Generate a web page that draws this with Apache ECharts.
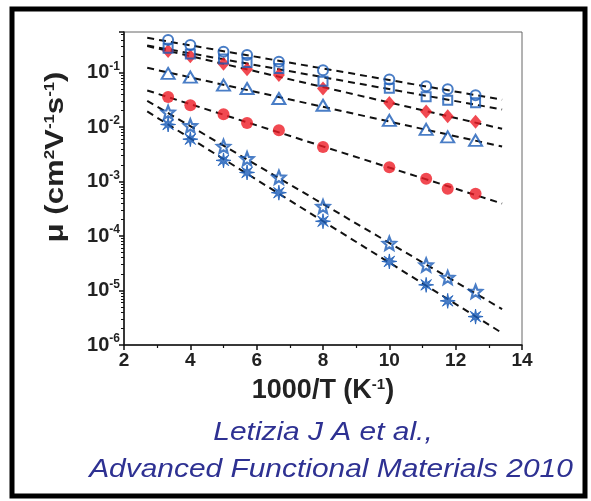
<!DOCTYPE html>
<html><head><meta charset="utf-8">
<script src="https://cdn.jsdelivr.net/npm/echarts@6/dist/echarts.min.js"></script>
<style>html,body{margin:0;padding:0;background:#fff}#c{width:591px;height:501px}</style>
</head><body><div id="c"></div>
<script>
// 1000/T (K^-1)
const xT = [3.33, 4, 5, 5.71, 6.67, 8, 10, 11.11, 11.76, 12.6];
// mobility (cm2 V-1 s-1)
const circleOpen   = [0.397, 0.32, 0.241, 0.21, 0.158, 0.111, 0.075, 0.056, 0.0497, 0.0385];
const squareOpen   = [0.279, 0.22, 0.177, 0.154, 0.119, 0.0697, 0.0518, 0.0361, 0.0312, 0.028];
const diamondRed   = [0.25, 0.2, 0.145, 0.115, 0.09, 0.051, 0.0278, 0.0193, 0.0158, 0.0126];
const triangleOpen = [0.0966, 0.0826, 0.0589, 0.0512, 0.0335, 0.0252, 0.0133, 0.0091, 0.00662, 0.00571];
const circleRed    = [0.0356, 0.0252, 0.0173, 0.0119, 0.00873, 0.0043, 0.00184, 0.00113, 0.000737, 0.000596];
const starOpen     = [0.0187, 0.01056, 0.00443, 0.00263, 0.0012, 0.000348, 7.34e-5, 2.94e-5, 1.73e-5, 9.6e-6];
const asteriskBlue = [0.01117, 0.00601, 0.00245, 0.00147, 0.000625, 0.000187, 3.42e-5, 1.27e-5, 6.46e-6, 3.32e-6];
// x range of the dashed Arrhenius fits
const fitRange = [2.7, 13.4];
const xTicks = [2, 4, 6, 8, 10, 12, 14];

const BLUE = '#1b5cb8', RED = '#ee1c25', FONT = 'Liberation Sans, Arial, sans-serif';

function pairs(ys){ return xT.map((x,i)=>[x, ys[i]]); }
function fit(ys){
  let n=xT.length, sx=0, sy=0, sxx=0, sxy=0;
  for (let i=0;i<n;i++){ const x=xT[i], y=Math.log10(ys[i]); sx+=x; sy+=y; sxx+=x*x; sxy+=x*y; }
  const b=(n*sxy-sx*sy)/(n*sxx-sx*sx), a=(sy-b*sx)/n;
  return fitRange.map(x=>[x, Math.pow(10, a+b*x)]);
}
function starPath(pts, R, r){
  let d='';
  for (let k=0;k<pts*2;k++){
    const ang = -Math.PI/2 + k*Math.PI/pts, rad = (k%2===0)?R:r;
    d += (k===0?'M':'L') + (50+rad*Math.cos(ang)).toFixed(2) + ',' + (50+rad*Math.sin(ang)).toFixed(2) + ' ';
  }
  return 'path://' + d + 'Z';
}
const STAR = starPath(5, 50, 22);
const AST = starPath(8, 50, 17);

const allSets = [circleOpen, squareOpen, diamondRed, triangleOpen, circleRed, starOpen, asteriskBlue];
const fitSeries = allSets.map(s=>({
  type:'line', data: fit(s), symbol:'none', silent:true, z:1,
  lineStyle:{color:'#111', width:2, type:[7,5]}
}));
const open = {color:'rgba(255,255,255,0)', borderColor:BLUE, borderWidth:2};
const scat = [
  {data:pairs(diamondRed), symbol:'diamond', symbolSize:[12,14], itemStyle:{color:RED}},
  {data:pairs(circleRed), symbol:'circle', symbolSize:12, itemStyle:{color:RED}},
  {data:pairs(triangleOpen), symbol:'triangle', symbolSize:[13,11], itemStyle:open},
  {data:pairs(squareOpen), symbol:'rect', symbolSize:9, itemStyle:open},
  {data:pairs(circleOpen), symbol:'circle', symbolSize:10, itemStyle:open},
  {data:pairs(starOpen), symbol:STAR, symbolSize:13, itemStyle:{color:'rgba(255,255,255,0)', borderColor:BLUE, borderWidth:2.2}},
  {data:pairs(asteriskBlue), symbol:AST, symbolSize:15, itemStyle:{color:BLUE, borderColor:BLUE, borderWidth:1}}
].map(s=>Object.assign({type:'scatter', z:3}, s));

const chart = echarts.init(document.getElementById('c'), null, {renderer:'canvas'});
chart.setOption({
  animation:false,
  grid:{left:124, right:69, top:32, bottom:156, show:true, borderColor:'#666', borderWidth:1},
  xAxis:{
    type:'value', min:2, max:14, interval:2,
    axisLine:{show:true, onZero:false, lineStyle:{color:'#111', width:1.5}},
    axisTick:{show:true, length:5, lineStyle:{color:'#111', width:1.5}},
    minorTick:{show:true, splitNumber:2, length:3, lineStyle:{color:'#111', width:1.2}},
    splitLine:{show:false},
    axisLabel:{color:'#222', fontSize:19, fontWeight:'bold', fontFamily:FONT, margin:6,
      formatter: v => xTicks.includes(v) ? String(v) : ''},
    name:'1000/T (K{s|-1})', nameLocation:'middle', nameGap:32,
    nameTextStyle:{color:'#222', fontSize:27, fontWeight:'bold', fontFamily:FONT,
      rich:{s:{fontSize:15, fontWeight:'bold', fontFamily:FONT, color:'#222', verticalAlign:'top'}}}
  },
  yAxis:{
    type:'log', logBase:10, min:1e-6, max:0.557, interval:1,
    axisLine:{show:true, onZero:false, lineStyle:{color:'#111', width:1.5}},
    axisTick:{show:true, length:5, lineStyle:{color:'#111', width:1.5}},
    minorTick:{show:true, splitNumber:9, length:3, lineStyle:{color:'#111', width:1}},
    splitLine:{show:false},
    axisLabel:{margin:4, formatter: v => {
        const e=Math.log10(v), r=Math.round(e);
        if (Math.abs(e-r)>1e-6) return '';
        return '{a|10}{b|'+r+'}';
      },
      rich:{a:{fontSize:20, fontWeight:'bold', fontFamily:FONT, color:'#222', lineHeight:24},
            b:{fontSize:12, fontWeight:'bold', fontFamily:FONT, color:'#222', verticalAlign:'top', lineHeight:14}}}
  },
  graphic:[
    {type:'rect', shape:{x:12, y:9, width:573, height:487}, style:{fill:'none', stroke:'#000', lineWidth:5}, z:100},
    {type:'text', x:56, y:157, rotation:Math.PI/2, scaleX:1.2, z:100,
      style:{text:'μ (cm{s|2}V{s|-1}s{s|-1})', fontSize:26, fontWeight:'bold', fontFamily:FONT, fill:'#222',
        align:'center', verticalAlign:'middle',
        rich:{s:{fontSize:14, fontWeight:'bold', fontFamily:FONT, fill:'#222', verticalAlign:'top'}}}},
    {type:'text', x:323, y:433, scaleX:1.15, z:100,
      style:{text:'Letizia J A et al.,', fontSize:26, fontStyle:'italic', fontFamily:FONT, fill:'#2e3192', align:'center', verticalAlign:'middle'}},
    {type:'text', x:331, y:470, scaleX:1.15, z:100,
      style:{text:'Advanced Functional Materials 2010', fontSize:26, fontStyle:'italic', fontFamily:FONT, fill:'#2e3192', align:'center', verticalAlign:'middle'}}
  ],
  series: fitSeries.concat(scat)
});
</script></body></html>
